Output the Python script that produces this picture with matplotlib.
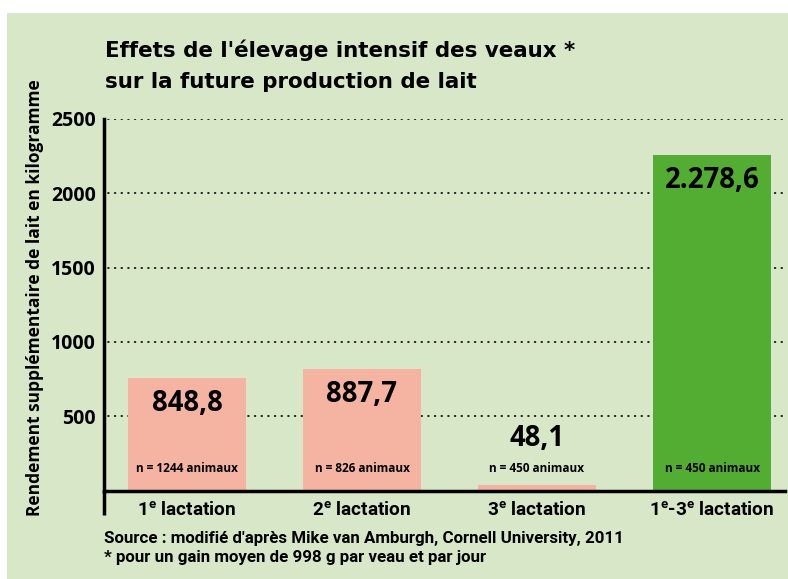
import matplotlib.pyplot as plt
from matplotlib.patches import Rectangle

# data
categories = ["1$^{e}$ lactation", "2$^{e}$ lactation", "3$^{e}$ lactation", "1$^{e}$-3$^{e}$ lactation"]
bar_heights = [758, 819, 37, 2261]          # drawn heights (kg)
value_labels = ["848,8", "887,7", "48,1", "2.278,6"]
n_labels = ["n = 1244 animaux", "n = 826 animaux", "n = 450 animaux", "n = 450 animaux"]
yticks = [500, 1000, 1500, 2000, 2500]

BG = "#d8e7c8"
SALMON = "#f5b4a2"
GREEN = "#53ad33"
bar_colors = [SALMON, SALMON, SALMON, GREEN]

NARROW = ["Roboto", "DejaVu Sans"]
WIDE = ["Open Sans", "DejaVu Sans"]
plt.rcParams["font.family"] = NARROW
plt.rcParams["mathtext.fontset"] = "custom"
plt.rcParams["mathtext.rm"] = "Roboto:bold"
plt.rcParams["mathtext.default"] = "rm"

W, H = 788, 579
fig = plt.figure(figsize=(W / 100, H / 100), dpi=100)
fig.patch.set_facecolor("white")
fig.patches.append(Rectangle((7 / W, 0), 1, 1 - 13 / H, transform=fig.transFigure,
                             facecolor=BG, edgecolor="none", zorder=-10))

# axes box in pixels: x 104..785, y 119(2500)..490.5(0)
x0, x1 = 104, 785
ytop, y0 = 119, 490.5
ax = fig.add_axes([x0 / W, 1 - y0 / H, (x1 - x0) / W, (y0 - ytop) / H])
ax.set_facecolor("none")

xs = list(range(len(categories)))
ax.bar(xs, bar_heights, width=0.674, color=bar_colors, zorder=3)
ax.set_xlim(-0.474, 3.417)
ax.set_ylim(0, 2500)

for y in yticks:
    ax.axhline(y, xmin=0.006, color="black", lw=1.2, ls=(0, (0.5, 3.5)),
               dash_capstyle="round", zorder=1)

ax.set_yticks(yticks)
ax.set_yticklabels([str(t) for t in yticks], fontsize=14, fontweight="bold", family=WIDE)
ax.tick_params(axis="y", length=0, pad=6)
ax.set_xticks([])

for s in ["top", "right"]:
    ax.spines[s].set_visible(False)
ax.spines["bottom"].set_linewidth(2.5)
ax.spines["left"].set_linewidth(2.5)
ax.spines["left"].set_bounds(0, 2500)
ax.spines["left"].set_zorder(5)
ax.spines["bottom"].set_zorder(5)

# extend the y axis a bit below the x axis
ax.plot([-0.474, -0.474], [0, -165], color="black", lw=2.5, clip_on=False,
        solid_capstyle="butt", zorder=5)

# value labels and n labels
for i, h in enumerate(bar_heights):
    ty = h - 175 if h > 300 else 348
    ax.text(i, ty, value_labels[i], ha="center", va="center", fontsize=19.8,
            fontweight="bold", family=WIDE, zorder=6)
    ax.text(i, 145, n_labels[i], ha="center", va="center", fontsize=8.5,
            fontweight="bold", family=WIDE, zorder=6)
    ax.text(i, -165, categories[i], ha="center", va="baseline", fontsize=13.7,
            fontweight="bold", zorder=6)

# y label
fig.text(35 / W, 1 - 298 / H, "Rendement supplémentaire de lait en kilogramme",
         rotation=90, ha="center", va="center", fontsize=12.5, fontweight="bold",
         family=WIDE)

# title
fig.text(105 / W, 1 - 57 / H, "Effets de l'élevage intensif des veaux *",
         ha="left", va="baseline", fontsize=15.4, fontweight="bold", family="DejaVu Sans")
fig.text(105 / W, 1 - 88 / H, "sur la future production de lait",
         ha="left", va="baseline", fontsize=15.4, fontweight="bold", family="DejaVu Sans")

# source
fig.text(104 / W, 1 - 543 / H, "Source : modifié d'après Mike van Amburgh, Cornell University, 2011",
         ha="left", va="baseline", fontsize=12.2, fontweight="bold")
fig.text(104 / W, 1 - 562 / H, "* pour un gain moyen de 998 g par veau et par jour",
         ha="left", va="baseline", fontsize=12.2, fontweight="bold")

fig.savefig("out.png", dpi=100, facecolor=fig.get_facecolor())
